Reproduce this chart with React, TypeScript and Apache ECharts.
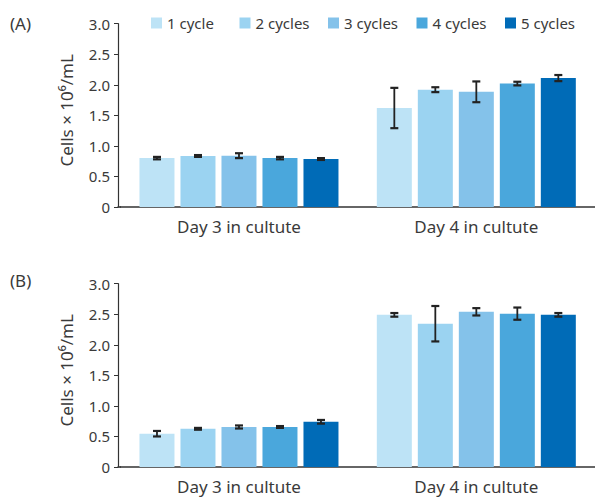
import React, { useEffect, useRef } from "react";
import * as echarts from "echarts";

const categories = ["Day 3 in cultute", "Day 4 in cultute"];
const seriesNames = ["1 cycle", "2 cycles", "3 cycles", "4 cycles", "5 cycles"];
const colors = ["#BDE3F6", "#9BD3F1", "#84C2EA", "#4AA7DC", "#006BB7"];
const yTicks = ["0", "0.5", "1.0", "1.5", "2.0", "2.5", "3.0"];

// per series: [Day 3, Day 4]
const meanA = [
  [0.8, 1.62],
  [0.835, 1.92],
  [0.84, 1.885],
  [0.8, 2.02],
  [0.785, 2.11],
];
const errA = [
  [0.02, 0.33],
  [0.015, 0.04],
  [0.04, 0.17],
  [0.02, 0.03],
  [0.015, 0.05],
];
const meanB = [
  [0.545, 2.49],
  [0.625, 2.345],
  [0.655, 2.54],
  [0.655, 2.51],
  [0.74, 2.49],
];
const errB = [
  [0.045, 0.03],
  [0.015, 0.29],
  [0.025, 0.06],
  [0.015, 0.1],
  [0.03, 0.03],
];

const FONT = "'Noto Sans', sans-serif";
const TEXT = "#3a3a3a";
const BAR_W = 35;
const BAR_GAP = 6;
const LEGEND_LEFTS = [151, 239.5, 328, 416.5, 505];

export default function App() {
  const ref = useRef<HTMLDivElement>(null);
  useEffect(() => {
    if (!ref.current) return;
    const chart = echarts.init(ref.current, null, { renderer: "svg" });

    const grids = [
      { left: 120.3, right: -2, top: 23.7, height: 183.3 },
      { left: 120.3, right: -2, top: 283.7, height: 183.3 },
    ];

    const xAxes = [0, 1].map((i) => ({
      type: "category",
      gridIndex: i,
      data: categories,
      axisTick: { show: false },
      axisLine: { lineStyle: { color: "#333", width: 1.5 } },
      axisLabel: { color: TEXT, fontSize: 17, fontFamily: FONT, margin: 11 },
    }));

    const yAxes = [0, 1].map((i) => ({
      type: "value",
      gridIndex: i,
      offset: 2.3,
      min: 0,
      max: 3,
      interval: 0.5,
      splitLine: { show: false },
      axisLine: { show: true, lineStyle: { color: "#333", width: 1.2 } },
      axisTick: { show: true, length: 4, lineStyle: { color: "#333" } },
      axisLabel: {
        color: TEXT,
        fontSize: 15,
        fontFamily: FONT,
        margin: 8,
        formatter: (v: number) => yTicks[Math.round(v / 0.5)] ?? String(v),
      },
      name: "Cells × 10⁶/mL",
      nameLocation: "middle",
      nameGap: 43,
      nameTextStyle: {
        color: TEXT,
        fontSize: 17,
        fontFamily: FONT,
        padding: [0, 0, 0, 10],
      },
    }));

    const series: any[] = [];
    const panels = [
      { mean: meanA, err: errA },
      { mean: meanB, err: errB },
    ];
    panels.forEach((p, g) => {
      seriesNames.forEach((name, s) => {
        series.push({
          type: "bar",
          name,
          xAxisIndex: g,
          yAxisIndex: g,
          data: p.mean[s],
          barWidth: BAR_W,
          barGap: `${((BAR_GAP / BAR_W) * 100).toFixed(2)}%`,
          itemStyle: { color: colors[s] },
        });
      });
      seriesNames.forEach((name, s) => {
        series.push({
          type: "custom",
          xAxisIndex: g,
          yAxisIndex: g,
          z: 5,
          data: p.mean[s].map((v, c) => [c, v, p.err[s][c]]),
          encode: { x: 0, y: 1 },
          renderItem: (params: any, api: any) => {
            const c = api.value(0);
            const v = api.value(1);
            const e = api.value(2);
            const base = api.coord([c, v]);
            const x = base[0] + (s - 2) * (BAR_W + BAR_GAP);
            const top = api.coord([c, v + e])[1];
            const bot = api.coord([c, v - e])[1];
            const style = { stroke: "#222", lineWidth: 1.8 };
            const cap = { stroke: "#222", lineWidth: 2.2 };
            return {
              type: "group",
              children: [
                { type: "line", shape: { x1: x, y1: top, x2: x, y2: bot }, style },
                { type: "line", shape: { x1: x - 4, y1: top, x2: x + 4, y2: top }, style: cap },
                { type: "line", shape: { x1: x - 4, y1: bot, x2: x + 4, y2: bot }, style: cap },
              ],
            };
          },
        });
      });
    });

    const legends = seriesNames.map((name, i) => ({
      data: [name],
      left: LEGEND_LEFTS[i],
      top: 15.5,
      padding: 0,
      itemWidth: 11,
      itemHeight: 11,
      icon: "rect",
      textStyle: { color: TEXT, fontSize: 15, fontFamily: FONT },
    }));

    chart.setOption({
      animation: false,
      textStyle: { fontFamily: FONT },
      title: [
        { text: "(A)", left: 10, top: 15, padding: 0, textStyle: { color: TEXT, fontSize: 17, fontWeight: "normal", fontFamily: FONT } },
        { text: "(B)", left: 10, top: 272, padding: 0, textStyle: { color: TEXT, fontSize: 17, fontWeight: "normal", fontFamily: FONT } },
      ],
      legend: legends,
      grid: grids,
      xAxis: xAxes,
      yAxis: yAxes,
      graphic: [0, 1].map((i) => ({
        type: "line",
        shape: { x1: 117.5, y1: 0, x2: 121, y2: 0 },
        y: grids[i].top + grids[i].height,
        style: { stroke: "#333", lineWidth: 1.5 },
      })),
      series,
    });
    return () => chart.dispose();
  }, []);
  return (
    <div
      ref={ref}
      style={{ position: "absolute", left: 0, top: 0, width: 595, height: 498 }}
    />
  );
}
